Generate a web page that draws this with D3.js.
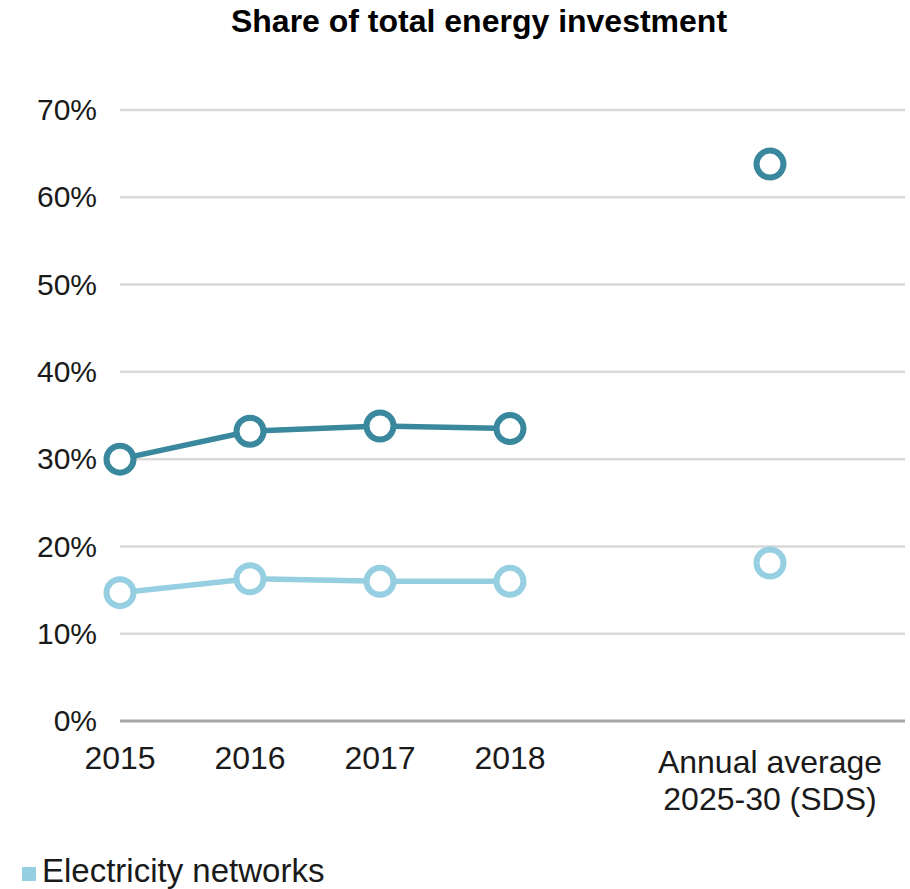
<!DOCTYPE html>
<html>
<head>
<meta charset="utf-8">
<script src="https://cdn.jsdelivr.net/npm/d3@7"></script>
<style>
  html, body { margin: 0; padding: 0; background: #fff; }
  svg { display: block; }
  text { font-family: "Liberation Sans", Arial, sans-serif; fill: #1a1a1a; }
</style>
</head>
<body>
<svg id="chart" width="910" height="889"></svg>
<script>
// ---- data ----
const categories = ["2015", "2016", "2017", "2018", "", "Annual average|2025-30 (SDS)"];
const historicYears = ["2015", "2016", "2017", "2018"];
const projectionCategory = "Annual average|2025-30 (SDS)";
const seriesDarkHistoric = [30.0, 33.2, 33.8, 33.5];
const seriesDarkProjection = 63.8;
const seriesLightHistoric = [14.7, 16.3, 16.0, 16.0];
const seriesLightProjection = 18.1;
const yTicks = [0, 10, 20, 30, 40, 50, 60, 70];
const legendLabels = ["Electricity networks"];
const titleText = "Share of total energy investment";

// ---- setup ----
const svg = d3.select("#chart");
const darkColor = "#3a889d";
const lightColor = "#95cfe1";

const x = d3.scalePoint().domain(categories).range([120, 770]);
const y = d3.scaleLinear().domain([0, 70]).range([721, 110]);
const gridRight = 905;

// title
svg.append("text")
  .attr("x", 479).attr("y", 32)
  .attr("text-anchor", "middle")
  .style("font-weight", "bold")
  .style("font-size", "32px")
  .style("fill", "#000")
  .text(titleText);

// gridlines
svg.append("g").selectAll("line")
  .data(yTicks)
  .join("line")
  .attr("x1", 120).attr("x2", gridRight)
  .attr("y1", d => y(d)).attr("y2", d => y(d))
  .attr("stroke", d => d === 0 ? "#a6a6a6" : "#d9d9d9")
  .attr("stroke-width", d => d === 0 ? 3 : 2.5);

// y axis labels via d3 axis
const yAxis = d3.axisLeft(y).tickValues(yTicks).tickFormat(d => d + "%").tickSize(0).tickPadding(0);
const yg = svg.append("g").attr("transform", "translate(97,0)").call(yAxis);
yg.select(".domain").remove();
yg.selectAll("text")
  .style("font-size", "30px")
  .style("font-family", "'Liberation Sans', Arial, sans-serif")
  .attr("fill", "#1a1a1a");

// x axis labels
const xg = svg.append("g");
categories.filter(c => c !== "").forEach(c => {
  const lines = c.split("|");
  const t = xg.append("text")
    .attr("x", x(c))
    .attr("text-anchor", "middle")
    .style("font-size", "32px");
  lines.forEach((ln, i) => {
    t.append("tspan")
      .attr("x", x(c))
      .attr("y", (lines.length > 1 ? 773 : 769) + i * 37)
      .text(ln);
  });
});

// lines
const line = d3.line().x(d => x(d[0])).y(d => y(d[1]));
const series = [
  { color: darkColor, hist: seriesDarkHistoric, proj: seriesDarkProjection },
  { color: lightColor, hist: seriesLightHistoric, proj: seriesLightProjection }
];

series.forEach(s => {
  const pts = historicYears.map((yr, i) => [yr, s.hist[i]]);
  svg.append("path")
    .datum(pts)
    .attr("d", line)
    .attr("fill", "none")
    .attr("stroke", s.color)
    .attr("stroke-width", 5.5)
    .attr("stroke-linejoin", "round");
  const allPts = pts.concat([[projectionCategory, s.proj]]);
  svg.append("g").selectAll("circle")
    .data(allPts)
    .join("circle")
    .attr("cx", d => x(d[0]))
    .attr("cy", d => y(d[1]))
    .attr("r", 13.5)
    .attr("fill", "#fff")
    .attr("stroke", s.color)
    .attr("stroke-width", 6);
});

// legend
const lg = svg.append("g");
lg.append("rect").attr("x", 22).attr("y", 867).attr("width", 14).attr("height", 14).attr("fill", lightColor);
lg.append("text").attr("x", 42).attr("y", 882).style("font-size", "33px").text(legendLabels[0]);
</script>
</body>
</html>
